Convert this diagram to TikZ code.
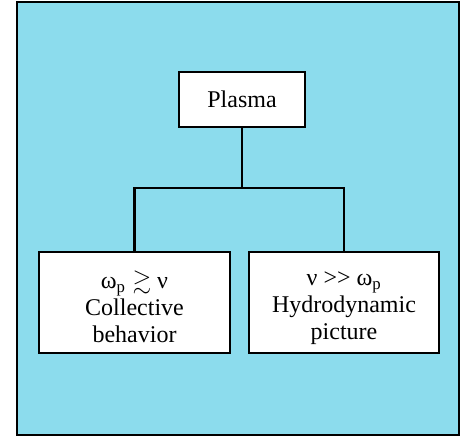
\documentclass[tikz,border=0pt]{standalone}
\usepackage{amsmath}
\usepackage{amssymb}
\usepackage{fontspec}
\setmainfont{Liberation Serif}
\newfontfamily\timesfont{Liberation Serif}
\usepackage{tikz}
\usetikzlibrary{positioning}

\definecolor{panelcyan}{RGB}{140,220,237}

\begin{document}
\begin{tikzpicture}[x=1pt,y=-1pt]
	\tikzset{box/.style={draw,fill=white,line width=2.2pt,inner sep=0pt,align=center,
			font=\timesfont\fontsize{24}{27}\selectfont}}
	\tikzset{link/.style={line width=2.2pt}}
	\useasboundingbox (0,0) rectangle (465,439);
	\draw[fill=panelcyan,line width=1.6pt] (17,2) rectangle (459,435);

	\node[box,minimum width=126pt,minimum height=55pt] (plasma) at (242,99.5) {Plasma};
	\node[box,minimum width=191pt,minimum height=101pt] (coll) at (134.5,302.5)
		{\rule{0pt}{26pt}ω$_{\mathrm{p}}\gtrsim$ ν\\Collective\\behavior};
	\node[box,minimum width=190pt,minimum height=101pt] (hydro) at (344,302.5)
		{\rule{0pt}{26pt}ν {>}{>} ω$_{\mathrm{p}}$\\Hydrodynamic\\picture};
	\coordinate (split) at (242,188);

	\draw[link] (plasma.south) -- (split);
	\draw[link] (coll.north) |- (split) -| (hydro.north);
\end{tikzpicture}
\end{document}
